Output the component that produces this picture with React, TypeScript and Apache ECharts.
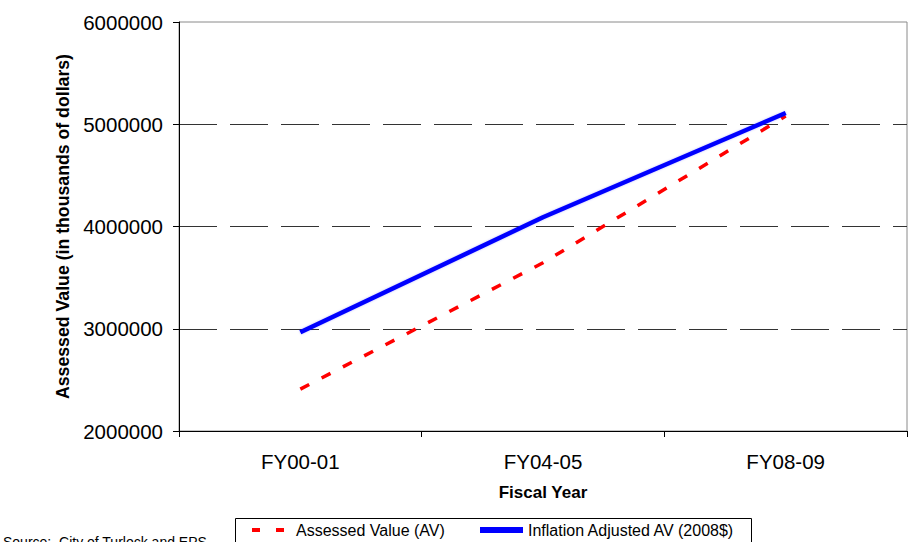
import React, { useEffect, useRef } from "react";
import * as echarts from "echarts";

// Fiscal years on the category axis
const fiscalYears = ["FY00-01", "FY04-05", "FY08-09"];

// Assessed value, thousands of dollars
const assessedValue = [2410000, 3645000, 5080000];

// Inflation adjusted assessed value (2008$), thousands of dollars
const inflationAdjustedValue = [2965000, 4090000, 5110000];

// Value axis range and step
const yMin = 2000000;
const yMax = 6000000;
const yStep = 1000000;

const seriesNames = ["Assessed Value (AV)", "Inflation Adjusted AV (2008$)"];
const sourceNote = "Source:  City of Turlock and EPS";

const FONT = "'Liberation Sans', Arial, Helvetica, sans-serif";

export default function App() {
  const ref = useRef<HTMLDivElement>(null);

  useEffect(() => {
    if (!ref.current) return;
    const chart = echarts.init(ref.current, null, { renderer: "svg" });

    chart.setOption({
      animation: false,
      backgroundColor: "#ffffff",
      textStyle: { fontFamily: FONT, color: "#000" },
      grid: {
        left: 179,
        right: 5,
        top: 22,
        bottom: 111,
        show: true,
        borderColor: "#8a8a8a",
        borderWidth: 1,
        backgroundColor: "transparent",
      },
      xAxis: {
        type: "category",
        data: fiscalYears,
        boundaryGap: true,
        name: "Fiscal Year",
        nameLocation: "middle",
        nameGap: 53,
        nameTextStyle: { fontFamily: FONT, fontWeight: "bold", fontSize: 17, color: "#000" },
        axisLine: { lineStyle: { color: "#000", width: 1 } },
        axisTick: { show: true, inside: false, length: 6, alignWithLabel: false, lineStyle: { color: "#000" } },
        axisLabel: { fontFamily: FONT, fontSize: 20.5, color: "#000", margin: 20 },
        splitLine: { show: false },
      },
      yAxis: {
        type: "value",
        min: yMin,
        max: yMax,
        interval: yStep,
        name: "Assessed Value (in thousands of dollars)",
        nameLocation: "middle",
        nameGap: 94,
        nameTextStyle: { fontFamily: FONT, fontWeight: "bold", fontSize: 17.7, color: "#000" },
        axisLine: { show: true, lineStyle: { color: "#000", width: 1 } },
        axisTick: { show: true, inside: false, length: 6, lineStyle: { color: "#000" } },
        axisLabel: {
          fontFamily: FONT,
          fontSize: 20.5,
          color: "#000",
          margin: 16,
          formatter: (v: number) => String(v),
        },
        splitLine: {
          show: true,
          showMinLine: false,
          showMaxLine: false,
          lineStyle: { color: "#333", width: 1, type: [38, 13] },
        },
      },
      legend: [
        {
          data: [{ name: seriesNames[0], lineStyle: { type: [8, 16], width: 4 } }],
          left: 250,
          top: 522,
          padding: 0,
          itemWidth: 33,
          itemHeight: 16,
          itemStyle: { opacity: 0 },
          textStyle: { fontFamily: FONT, fontSize: 16, color: "#000", padding: [0, 0, 0, 6] },
        },
        {
          data: [{ name: seriesNames[1], lineStyle: { width: 6 } }],
          left: 477,
          top: 522,
          padding: 0,
          itemWidth: 43,
          itemHeight: 16,
          itemStyle: { opacity: 0 },
          textStyle: { fontFamily: FONT, fontSize: 16, color: "#000" },
        },
      ],
      graphic: [
        {
          type: "rect",
          left: 233,
          top: 516,
          shape: { width: 516, height: 40 },
          style: { fill: "none", stroke: "#000", lineWidth: 1 },
          z: 0,
        },
        {
          type: "text",
          left: 3,
          top: 535,
          style: { text: sourceNote, fontFamily: FONT, fontSize: 14, fill: "#000" },
        },
      ],
      series: [
        {
          name: seriesNames[0],
          type: "line",
          data: assessedValue,
          symbol: "none",
          showSymbol: false,
          lineStyle: { color: "#ff0000", width: 3.5, type: [10, 14] },
          itemStyle: { color: "#ff0000" },
          z: 3,
        },
        {
          name: seriesNames[1],
          type: "line",
          data: inflationAdjustedValue,
          symbol: "none",
          showSymbol: false,
          lineStyle: {
            color: "#0000ff",
            width: 4.5,
            shadowColor: "rgba(0,0,255,0.25)",
            shadowBlur: 2,
          },
          itemStyle: { color: "#0000ff" },
          z: 4,
        },
      ],
    });

    return () => chart.dispose();
  }, []);

  return <div ref={ref} style={{ width: 912, height: 542, position: "absolute", left: 0, top: 0 }} />;
}
